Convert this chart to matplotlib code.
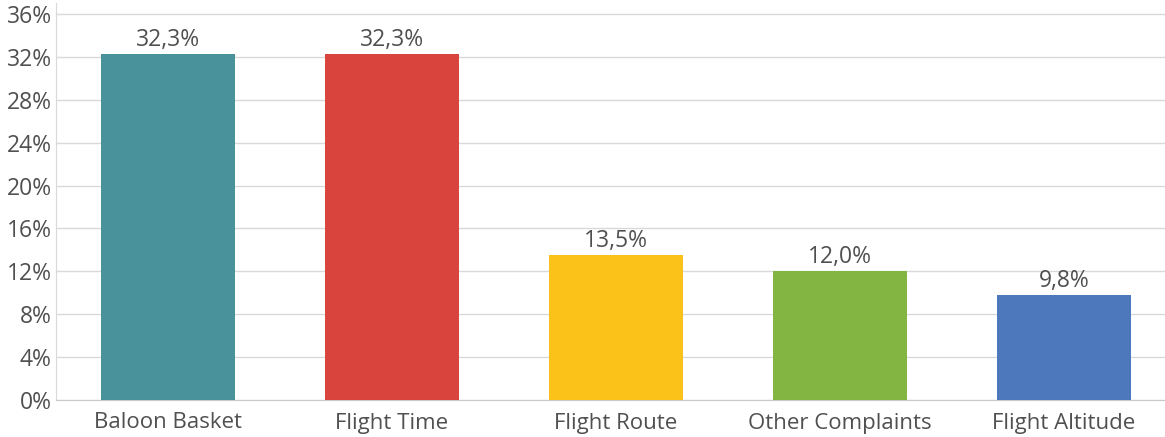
import matplotlib
matplotlib.use("Agg")
import matplotlib.pyplot as plt
from matplotlib.ticker import FuncFormatter

categories = ["Baloon Basket", "Flight Time", "Flight Route", "Other Complaints", "Flight Altitude"]
values = [32.3, 32.3, 13.5, 12.0, 9.8]
colors = ["#4A929B", "#D9443C", "#FBC21A", "#82B541", "#4D78BC"]
yticks = [0, 4, 8, 12, 16, 20, 24, 28, 32, 36]

plt.rcParams["font.family"] = ["Open Sans", "DejaVu Sans"]
text_color = "#505050"
grid_color = "#D9D9D9"

fig = plt.figure(figsize=(11.65, 4.37), dpi=100)
ax = fig.add_axes([56 / 1165, 1 - 400 / 437, 1120 / 1165, (400 - 3) / 437])

x = list(range(len(categories)))
bars = ax.bar(x, values, width=0.6, color=colors, zorder=3)
for b, v in zip(bars, values):
    ax.text(b.get_x() + b.get_width() / 2, v + 0.2, f"{v:.1f}%".replace(".", ","),
            ha="center", va="bottom", fontsize=16.5, color=text_color, zorder=4)

ax.set_xlim(-0.5, len(categories) - 0.5)
ax.set_ylim(0, 36 * 397 / 386)
ax.set_yticks(yticks)
ax.yaxis.set_major_formatter(FuncFormatter(lambda v, p: f"{int(v)}%"))
ax.set_xticks(x)
ax.set_xticklabels(categories)
ax.tick_params(axis="x", length=0, labelsize=16, colors=text_color, pad=9)
ax.tick_params(axis="y", length=0, labelsize=16.5, colors=text_color, pad=3)
ax.grid(axis="y", color=grid_color, linewidth=1, zorder=0)
for s in ["top", "right"]:
    ax.spines[s].set_visible(False)
ax.spines["left"].set_color(grid_color)
ax.spines["bottom"].set_color("#C8C8C8")

fig.savefig("out.png", dpi=100)
